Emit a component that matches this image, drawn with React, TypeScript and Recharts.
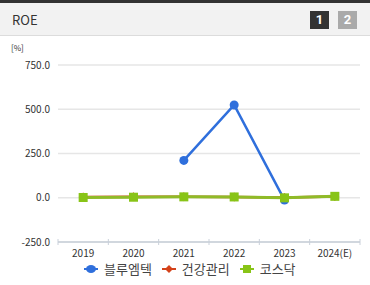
import { LineChart, Line, XAxis, YAxis, CartesianGrid } from 'recharts';

const years = ['2019', '2020', '2021', '2022', '2023', '2024(E)'];
const bluemtec = [null, null, 211, 524, -13, null];
const healthcare = [4, 5, 6, 4, 1, 7];
const kosdaq = [1.5, 3, 5, 4.5, -0.5, 8];
const yTicks = [-250, 0, 250, 500, 750];

const BLUE = '#2f6fdc';
const RED = '#d4421a';
const GREEN = '#88c417';
const FONT = '"Noto Sans CJK KR", "Noto Sans", sans-serif';

const data = years.map((y, i) => ({
  idx: i,
  year: y,
  bluemtec: bluemtec[i],
  healthcare: healthcare[i],
  kosdaq: kosdaq[i],
}));

const xTicks = [-0.5, 0, 0.5, 1, 1.5, 2, 2.5, 3, 3.5, 4, 4.5, 5, 5.5];

function XTick(props: any) {
  const { x, y, payload } = props;
  const v = payload.value as number;
  if (!Number.isInteger(v)) {
    return <line x1={x} x2={x} y1={y - 3} y2={y + 3} stroke="#c9d0da" strokeWidth={1} />;
  }
  return (
    <text x={x} y={y + 10} textAnchor="middle" dominantBaseline="central" fontSize={10} fill="#333" fontFamily={FONT}>
      {years[v]}
    </text>
  );
}

const circleDot = (props: any) => {
  const { cx, cy, index, value } = props;
  if (value == null || cy == null) return <g key={index} />;
  return <circle key={index} cx={cx} cy={cy} r={4.5} fill={BLUE} />;
};

const diamondDot = (props: any) => {
  const { cx, cy, index } = props;
  if (cy == null) return <g key={index} />;
  return <path key={index} d={`M${cx},${cy - 4.5}L${cx + 4.5},${cy}L${cx},${cy + 4.5}L${cx - 4.5},${cy}Z`} fill={RED} />;
};

const squareDot = (props: any) => {
  const { cx, cy, index } = props;
  if (cy == null) return <g key={index} />;
  return <rect key={index} x={cx - 4.5} y={cy - 4.5} width={9} height={9} fill={GREEN} />;
};

function LegendIcon({ color, shape }: { color: string; shape: 'circle' | 'diamond' | 'square' }) {
  return (
    <svg width={14} height={10} style={{ display: 'block' }}>
      <line x1={0} x2={14} y1={5} y2={5} stroke={color} strokeWidth={2} />
      {shape === 'circle' && <ellipse cx={7} cy={5} rx={5} ry={4} fill={color} />}
      {shape === 'diamond' && <path d="M7,1L11,5L7,9L3,5Z" fill={color} />}
      {shape === 'square' && <rect x={3} y={1} width={8} height={8} fill={color} />}
    </svg>
  );
}

const legendItems = [
  { name: '블루엠텍', color: BLUE, shape: 'circle' as const },
  { name: '건강관리', color: RED, shape: 'diamond' as const },
  { name: '코스닥', color: GREEN, shape: 'square' as const },
];

export default function App() {
  return (
    <div style={{ position: 'absolute', left: 0, top: 0, width: 370, height: 285, background: '#fff', fontFamily: FONT, overflow: 'hidden' }}>
      <div style={{ position: 'absolute', left: 0, top: 0, width: 370, height: 3, background: '#333' }} />
      <div style={{ position: 'absolute', left: 0, top: 3, width: 370, height: 32, background: '#f2f2f2', borderBottom: '1px solid #dcdcdc' }}>
        <div style={{ position: 'absolute', left: 12, top: 7, fontSize: 13, color: '#333' }}>ROE</div>
        <div style={{ position: 'absolute', left: 310, top: 8, width: 19, height: 18, background: '#333', color: '#fff', fontSize: 13, fontWeight: 700, textAlign: 'center', lineHeight: '18px', fontFamily: 'Roboto, sans-serif' }}>1</div>
        <div style={{ position: 'absolute', left: 338, top: 8, width: 19, height: 18, background: '#aaa', color: '#fff', fontSize: 13, fontWeight: 700, textAlign: 'center', lineHeight: '18px', fontFamily: 'Roboto, sans-serif' }}>2</div>
      </div>
      <div style={{ position: 'absolute', left: 11, top: 42, fontSize: 8, color: '#333' }}>[%]</div>
      <div style={{ position: 'absolute', left: 0, top: 40 }}>
        <LineChart width={370} height={232} data={data} margin={{ top: 25, right: 10, left: 8, bottom: 0 }}>
          <CartesianGrid vertical={false} stroke="#e6e6e6" strokeWidth={1.5} />
          <XAxis
            dataKey="idx"
            type="number"
            domain={[-0.5, 5.5]}
            ticks={xTicks}
            interval={0}
            tickLine={false}
            tickSize={0}
            tickMargin={0}
            height={30}
            axisLine={{ stroke: '#c9d0da', strokeWidth: 1.5 }}
            tick={<XTick />}
          />
          <YAxis
            domain={[-250, 750]}
            ticks={yTicks}
            width={50}
            axisLine={false}
            tickLine={false}
            tickFormatter={(v: number) => v.toFixed(1)}
            tick={{ fontSize: 10, fill: '#333', fontFamily: FONT }}
          />
          <Line dataKey="bluemtec" stroke={BLUE} strokeWidth={2.5} dot={circleDot} activeDot={false} isAnimationActive={false} />
          <Line dataKey="healthcare" stroke={RED} strokeWidth={2.5} dot={diamondDot} activeDot={false} isAnimationActive={false} />
          <Line dataKey="kosdaq" stroke="#8fbb28" strokeWidth={3} dot={squareDot} activeDot={false} isAnimationActive={false} />
        </LineChart>
      </div>
      <div style={{ position: 'absolute', left: 84, top: 259, display: 'flex', alignItems: 'center', gap: 10 }}>
        {legendItems.map((it) => (
          <div key={it.name} style={{ display: 'flex', alignItems: 'center', gap: 6 }}>
            <LegendIcon color={it.color} shape={it.shape} />
            <span style={{ fontSize: 13, color: '#444' }}>{it.name}</span>
          </div>
        ))}
      </div>
    </div>
  );
}
